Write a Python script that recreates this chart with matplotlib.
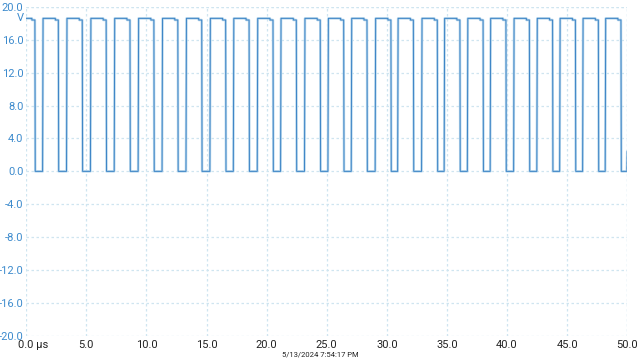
import numpy as np
import matplotlib.pyplot as plt
from matplotlib.transforms import ScaledTranslation

# Edge times (microseconds)
rise_times = [1.36, 3.35, 5.34, 7.32, 9.31, 11.30, 13.29, 15.28, 17.23, 19.22,
              21.16, 23.15, 25.10, 27.04, 29.03, 30.90, 32.89, 34.77, 36.70,
              38.60, 40.55, 42.48, 44.38, 46.29, 48.17]
fall_times = [0.72, 2.67, 4.66, 6.65, 8.63, 10.62, 12.61, 14.60, 16.59, 18.54,
              20.53, 22.47, 24.46, 26.41, 28.35, 30.34, 32.21, 34.20, 36.08,
              38.01, 39.91, 41.86, 43.79, 45.69, 47.60, 49.48]
high_level = 18.6
sag_level = 18.4
low_level = 0.0
end_level = 2.4

x_ticks = [0, 5, 10, 15, 20, 25, 30, 35, 40, 45, 50]
x_labels = ['0.0 µs', '5.0', '10.0', '15.0', '20.0', '25.0', '30.0', '35.0',
            '40.0', '45.0', '50.0']
y_ticks = [20, 16, 12, 8, 4, 0, -4, -8, -12, -16, -20]
y_labels = ['20.0', '16.0', '12.0', '8.0', '4.0', '0.0', '-4.0', '-8.0',
            '-12.0', '-16.0', '-20.0']
stamp = '5/13/2024 7:54:17 PM'

# Build the step trace from the edges
t = [0.0]
v = [high_level]
for i, f in enumerate(fall_times):
    t += [f - 0.25, f - 0.25, f, f + 0.03]
    v += [high_level, sag_level, sag_level, low_level]
    if i < len(rise_times):
        r = rise_times[i]
        t += [r, r + 0.04]
        v += [low_level, high_level]
t += [49.97, 50.0]
v += [low_level, end_level]

plt.rcParams['font.family'] = ['Roboto', 'DejaVu Sans']

fig = plt.figure(figsize=(6.4, 3.6), dpi=100)
ax = fig.add_axes([0.041, 0.067, 0.939, 0.914])

ax.plot(t, v, color='#b9d7ec', lw=1.8)
ax.plot(t, v, color='#3c84c6', lw=0.7)

ax.set_xlim(0, 50)
ax.set_ylim(-20, 20)
ax.set_xticks(x_ticks)
ax.set_xticklabels(x_labels, fontsize=8, color='#222222')
ax.set_yticks(y_ticks)
ax.set_yticklabels(y_labels, fontsize=8, color='#3d8bcd')
ax.tick_params(length=0, pad=2)
ax.tick_params(axis='x', pad=3)
ax.grid(True, color='#cfe5f0', linestyle=(0, (2, 2)), lw=0.9)
for s in ax.spines.values():
    s.set_visible(False)
ax.axhline(20, color='#cfe5f0', linestyle=(0, (2, 2)), lw=0.9)
ax.axvline(50, color='#cfe5f0', linestyle=(0, (2, 2)), lw=0.9)

# first label: keep "0.0" under the axis, unit hangs to the right
first = ax.get_xticklabels()[0]
first.set_ha('left')
first.set_transform(first.get_transform() +
                    ScaledTranslation(-0.08, 0, fig.dpi_scale_trans))

ax.text(-0.2, high_level, 'V', ha='right', va='center', fontsize=8,
        color='#3d8bcd', clip_on=False)
fig.text(0.5, 0.015, stamp, ha='center', va='center', fontsize=5.5,
         color='#222222')

fig.savefig('out.png', dpi=100)
